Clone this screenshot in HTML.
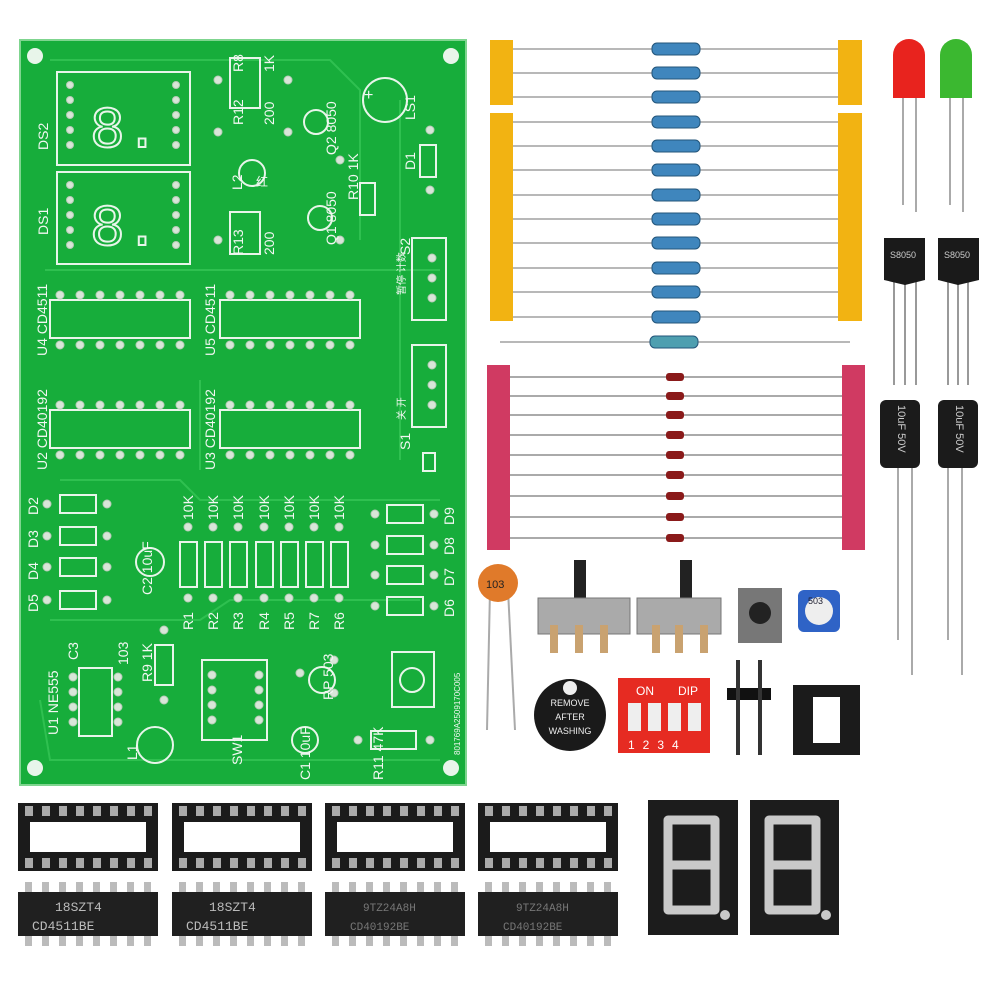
<!DOCTYPE html>
<html><head><style>body{margin:0;background:#fff}svg{display:block}</style></head><body>
<svg width="1000" height="1000" viewBox="0 0 1000 1000" xmlns="http://www.w3.org/2000/svg" font-family="Liberation Sans, Noto Sans CJK SC, sans-serif">
<rect width="1000" height="1000" fill="#fff"/>
<!-- PCB -->
<rect x="20" y="40" width="446" height="745" fill="#17ad3b" stroke="#7fd58f" stroke-width="2"/>
<g fill="none" stroke="#2fc050" stroke-width="2">
<path d="M50 60 H330 L360 90 V240 M45 270 H440 M60 480 H180 L200 500 H440 M50 620 H200 L230 600 H420 M40 700 L50 760 H440 M200 470 V380 M400 100 V460"/>
</g>
<g fill="none" stroke="#e8f5ea" stroke-width="2">
<rect x="57" y="72" width="133" height="93"/><rect x="57" y="172" width="133" height="92"/>
<rect x="50" y="300" width="140" height="38"/><rect x="220" y="300" width="140" height="38"/>
<rect x="50" y="410" width="140" height="38"/><rect x="220" y="410" width="140" height="38"/>
<rect x="230" y="58" width="30" height="50"/><rect x="230" y="212" width="30" height="42"/><rect x="360" y="183" width="15" height="32"/>
<rect x="412" y="238" width="34" height="82"/><rect x="412" y="345" width="34" height="82"/>
<rect x="420" y="145" width="16" height="32"/>
<circle cx="385" cy="100" r="22"/><circle cx="316" cy="122" r="12"/><circle cx="320" cy="218" r="12"/><circle cx="252" cy="173" r="13"/>
<rect x="60" y="495" width="36" height="18"/><rect x="60" y="527" width="36" height="18"/><rect x="60" y="558" width="36" height="18"/><rect x="60" y="591" width="36" height="18"/>
<rect x="180" y="542" width="17" height="45"/><rect x="205" y="542" width="17" height="45"/><rect x="230" y="542" width="17" height="45"/><rect x="256" y="542" width="17" height="45"/><rect x="281" y="542" width="17" height="45"/><rect x="306" y="542" width="17" height="45"/><rect x="331" y="542" width="17" height="45"/>
<rect x="387" y="505" width="36" height="18"/><rect x="387" y="536" width="36" height="18"/><rect x="387" y="566" width="36" height="18"/><rect x="387" y="597" width="36" height="18"/>
<circle cx="150" cy="562" r="14"/><circle cx="155" cy="745" r="18"/><circle cx="305" cy="740" r="13"/><circle cx="322" cy="680" r="13"/>
<rect x="79" y="668" width="33" height="68"/><rect x="202" y="660" width="65" height="80"/><rect x="155" y="645" width="18" height="40"/>
<rect x="371" y="731" width="45" height="18"/><rect x="392" y="652" width="42" height="55"/><circle cx="412" cy="680" r="12"/>
<rect x="423" y="453" width="12" height="18"/>
</g>
<g fill="#e8f5ea">
<circle cx="35" cy="56" r="8"/><circle cx="451" cy="56" r="8"/><circle cx="35" cy="768" r="8"/><circle cx="451" cy="768" r="8"/>
</g>
<g fill="#d8e6d8" stroke="#b8cbb8">
<g id="pads"><circle cx="60" cy="295" r="4"/><circle cx="80" cy="295" r="4"/><circle cx="100" cy="295" r="4"/><circle cx="120" cy="295" r="4"/><circle cx="140" cy="295" r="4"/><circle cx="160" cy="295" r="4"/><circle cx="180" cy="295" r="4"/><circle cx="60" cy="345" r="4"/><circle cx="80" cy="345" r="4"/><circle cx="100" cy="345" r="4"/><circle cx="120" cy="345" r="4"/><circle cx="140" cy="345" r="4"/><circle cx="160" cy="345" r="4"/><circle cx="180" cy="345" r="4"/></g>
<use href="#pads" x="170"/><use href="#pads" y="110"/><use href="#pads" x="170" y="110"/>
<g id="dp"><circle cx="70" cy="85" r="3.5"/><circle cx="70" cy="100" r="3.5"/><circle cx="70" cy="115" r="3.5"/><circle cx="70" cy="130" r="3.5"/><circle cx="70" cy="145" r="3.5"/><circle cx="176" cy="85" r="3.5"/><circle cx="176" cy="100" r="3.5"/><circle cx="176" cy="115" r="3.5"/><circle cx="176" cy="130" r="3.5"/><circle cx="176" cy="145" r="3.5"/></g>
<use href="#dp" y="100"/>
<circle cx="73" cy="677" r="4"/><circle cx="73" cy="692" r="4"/><circle cx="73" cy="707" r="4"/><circle cx="73" cy="722" r="4"/><circle cx="118" cy="677" r="4"/><circle cx="118" cy="692" r="4"/><circle cx="118" cy="707" r="4"/><circle cx="118" cy="722" r="4"/>
<circle cx="47" cy="504" r="4"/><circle cx="47" cy="536" r="4"/><circle cx="47" cy="567" r="4"/><circle cx="47" cy="600" r="4"/><circle cx="107" cy="504" r="4"/><circle cx="107" cy="536" r="4"/><circle cx="107" cy="567" r="4"/><circle cx="107" cy="600" r="4"/>
<circle cx="188" cy="527" r="4"/><circle cx="213" cy="527" r="4"/><circle cx="238" cy="527" r="4"/><circle cx="264" cy="527" r="4"/><circle cx="289" cy="527" r="4"/><circle cx="314" cy="527" r="4"/><circle cx="339" cy="527" r="4"/>
<circle cx="188" cy="598" r="4"/><circle cx="213" cy="598" r="4"/><circle cx="238" cy="598" r="4"/><circle cx="264" cy="598" r="4"/><circle cx="289" cy="598" r="4"/><circle cx="314" cy="598" r="4"/><circle cx="339" cy="598" r="4"/>
<circle cx="375" cy="514" r="4"/><circle cx="375" cy="545" r="4"/><circle cx="375" cy="575" r="4"/><circle cx="375" cy="606" r="4"/><circle cx="434" cy="514" r="4"/><circle cx="434" cy="545" r="4"/><circle cx="434" cy="575" r="4"/><circle cx="434" cy="606" r="4"/>
<circle cx="432" cy="258" r="4"/><circle cx="432" cy="278" r="4"/><circle cx="432" cy="298" r="4"/><circle cx="432" cy="365" r="4"/><circle cx="432" cy="385" r="4"/><circle cx="432" cy="405" r="4"/>
<circle cx="218" cy="80" r="4"/><circle cx="288" cy="80" r="4"/><circle cx="218" cy="132" r="4"/><circle cx="288" cy="132" r="4"/><circle cx="218" cy="240" r="4"/><circle cx="340" cy="240" r="4"/><circle cx="340" cy="160" r="4"/><circle cx="430" cy="130" r="4"/><circle cx="430" cy="190" r="4"/>
<circle cx="212" cy="675" r="4"/><circle cx="212" cy="690" r="4"/><circle cx="212" cy="705" r="4"/><circle cx="212" cy="720" r="4"/><circle cx="259" cy="675" r="4"/><circle cx="259" cy="690" r="4"/><circle cx="259" cy="705" r="4"/><circle cx="259" cy="720" r="4"/>
<circle cx="164" cy="630" r="4"/><circle cx="164" cy="700" r="4"/><circle cx="358" cy="740" r="4"/><circle cx="430" cy="740" r="4"/><circle cx="300" cy="673" r="4"/><circle cx="334" cy="660" r="4"/><circle cx="334" cy="693" r="4"/>
</g>
<g fill="#f2f7f2" font-size="14">
<text x="90" y="147" font-size="58" font-family="Liberation Mono" fill="none" stroke="#e8f5ea" stroke-width="2">8.</text>
<text x="90" y="245" font-size="58" font-family="Liberation Mono" fill="none" stroke="#e8f5ea" stroke-width="2">8.</text>
<text transform="translate(48 150) rotate(-90)">DS2</text><text transform="translate(48 235) rotate(-90)">DS1</text>
<text transform="translate(47 356) rotate(-90)">U4 CD4511</text><text transform="translate(215 356) rotate(-90)">U5 CD4511</text>
<text transform="translate(47 470) rotate(-90)">U2 CD40192</text><text transform="translate(215 470) rotate(-90)">U3 CD40192</text>
<text transform="translate(243 72) rotate(-90)">R8</text><text transform="translate(274 72) rotate(-90)">1K</text><text transform="translate(243 125) rotate(-90)">R12</text><text transform="translate(274 125) rotate(-90)">200</text>
<text transform="translate(243 255) rotate(-90)">R13</text><text transform="translate(274 255) rotate(-90)">200</text><text transform="translate(242 190) rotate(-90)">L2</text>
<text transform="translate(336 155) rotate(-90)">Q2 8050</text><text transform="translate(336 245) rotate(-90)">Q1 8050</text>
<text transform="translate(358 200) rotate(-90)">R10 1K</text><text transform="translate(415 120) rotate(-90)">LS1</text><text transform="translate(415 170) rotate(-90)">D1</text>
<text transform="translate(410 255) rotate(-90)">S2</text><text transform="translate(410 450) rotate(-90)">S1</text>
<text transform="translate(38 515) rotate(-90)">D2</text><text transform="translate(38 548) rotate(-90)">D3</text><text transform="translate(38 580) rotate(-90)">D4</text><text transform="translate(38 612) rotate(-90)">D5</text>
<text transform="translate(454 525) rotate(-90)">D9</text><text transform="translate(454 555) rotate(-90)">D8</text><text transform="translate(454 586) rotate(-90)">D7</text><text transform="translate(454 617) rotate(-90)">D6</text>
<text transform="translate(152 595) rotate(-90)">C2 10uF</text>
<text transform="translate(193 520) rotate(-90)">10K</text><text transform="translate(218 520) rotate(-90)">10K</text><text transform="translate(243 520) rotate(-90)">10K</text><text transform="translate(269 520) rotate(-90)">10K</text><text transform="translate(294 520) rotate(-90)">10K</text><text transform="translate(319 520) rotate(-90)">10K</text><text transform="translate(344 520) rotate(-90)">10K</text>
<text transform="translate(193 630) rotate(-90)">R1</text><text transform="translate(218 630) rotate(-90)">R2</text><text transform="translate(243 630) rotate(-90)">R3</text><text transform="translate(269 630) rotate(-90)">R4</text><text transform="translate(294 630) rotate(-90)">R5</text><text transform="translate(319 630) rotate(-90)">R7</text><text transform="translate(344 630) rotate(-90)">R6</text>
<text transform="translate(78 660) rotate(-90)">C3</text><text transform="translate(128 665) rotate(-90)">103</text>
<text transform="translate(58 735) rotate(-90)">U1  NE555</text><text transform="translate(152 682) rotate(-90)">R9 1K</text>
<text transform="translate(137 760) rotate(-90)">L1</text><text transform="translate(242 765) rotate(-90)">SW1</text>
<text transform="translate(310 780) rotate(-90)">C1 10uF</text><text transform="translate(333 700) rotate(-90)">RP 503</text>
<text transform="translate(383 780) rotate(-90)">R11  47K</text>
<text transform="translate(460 755) rotate(-90)" font-size="8">801769A2509170C005</text>
<text x="364" y="100" font-size="16">+</text><text x="256" y="186" font-size="12">红</text>
<text transform="translate(405 295) rotate(-90)" font-size="10">暂停 计数</text><text transform="translate(405 420) rotate(-90)" font-size="10">关  开</text>
</g>
<!-- Resistor tapes -->
<rect x="490" y="40" width="23" height="65" fill="#f2b312"/><rect x="490" y="113" width="23" height="208" fill="#f2b312"/>
<rect x="838" y="40" width="24" height="65" fill="#f2b312"/><rect x="838" y="113" width="24" height="208" fill="#f2b312"/>
<g stroke="#b8b8b8" stroke-width="2">
<line x1="513" y1="49" x2="838" y2="49"/><line x1="513" y1="73" x2="838" y2="73"/><line x1="513" y1="97" x2="838" y2="97"/><line x1="513" y1="122" x2="838" y2="122"/><line x1="513" y1="146" x2="838" y2="146"/><line x1="513" y1="170" x2="838" y2="170"/><line x1="513" y1="195" x2="838" y2="195"/><line x1="513" y1="219" x2="838" y2="219"/><line x1="513" y1="243" x2="838" y2="243"/><line x1="513" y1="268" x2="838" y2="268"/><line x1="513" y1="292" x2="838" y2="292"/><line x1="513" y1="317" x2="838" y2="317"/><line x1="500" y1="342" x2="850" y2="342"/>
</g>
<g fill="#3f86bd" stroke="#23557a">
<rect x="652" y="43" width="48" height="12" rx="5"/><rect x="652" y="67" width="48" height="12" rx="5"/><rect x="652" y="91" width="48" height="12" rx="5"/><rect x="652" y="116" width="48" height="12" rx="5"/><rect x="652" y="140" width="48" height="12" rx="5"/><rect x="652" y="164" width="48" height="12" rx="5"/><rect x="652" y="189" width="48" height="12" rx="5"/><rect x="652" y="213" width="48" height="12" rx="5"/><rect x="652" y="237" width="48" height="12" rx="5"/><rect x="652" y="262" width="48" height="12" rx="5"/><rect x="652" y="286" width="48" height="12" rx="5"/><rect x="652" y="311" width="48" height="12" rx="5"/><rect x="650" y="336" width="48" height="12" rx="5" fill="#4e9fb0"/>
</g>
<!-- Diode tapes -->
<rect x="487" y="365" width="23" height="185" fill="#d03a62"/><rect x="842" y="365" width="23" height="185" fill="#d03a62"/>
<g stroke="#aaa" stroke-width="2">
<line x1="510" y1="377" x2="842" y2="377"/><line x1="510" y1="396" x2="842" y2="396"/><line x1="510" y1="415" x2="842" y2="415"/><line x1="510" y1="435" x2="842" y2="435"/><line x1="510" y1="455" x2="842" y2="455"/><line x1="510" y1="475" x2="842" y2="475"/><line x1="510" y1="496" x2="842" y2="496"/><line x1="510" y1="517" x2="842" y2="517"/><line x1="510" y1="538" x2="842" y2="538"/>
</g>
<g fill="#8a1a1a">
<rect x="666" y="373" width="18" height="8" rx="3"/><rect x="666" y="392" width="18" height="8" rx="3"/><rect x="666" y="411" width="18" height="8" rx="3"/><rect x="666" y="431" width="18" height="8" rx="3"/><rect x="666" y="451" width="18" height="8" rx="3"/><rect x="666" y="471" width="18" height="8" rx="3"/><rect x="666" y="492" width="18" height="8" rx="3"/><rect x="666" y="513" width="18" height="8" rx="3"/><rect x="666" y="534" width="18" height="8" rx="3"/>
</g>
<!-- LEDs -->
<g stroke="#aaa" stroke-width="2"><line x1="903" y1="95" x2="903" y2="205"/><line x1="916" y1="95" x2="916" y2="212"/><line x1="950" y1="95" x2="950" y2="205"/><line x1="963" y1="95" x2="963" y2="212"/></g>
<path d="M893 98 V55 a16 16 0 0 1 32 0 V98 Z" fill="#e8231e"/><path d="M940 98 V55 a16 16 0 0 1 32 0 V98 Z" fill="#3bb830"/>
<!-- transistors -->
<g stroke="#999" stroke-width="2"><line x1="894" y1="280" x2="894" y2="385"/><line x1="905" y1="280" x2="905" y2="385"/><line x1="916" y1="280" x2="916" y2="385"/><line x1="948" y1="280" x2="948" y2="385"/><line x1="958" y1="280" x2="958" y2="385"/><line x1="968" y1="280" x2="968" y2="385"/></g>
<path d="M884 238 H925 V280 L905 285 L884 280Z" fill="#1a1a1a"/><path d="M938 238 H979 V280 L958 285 L938 280Z" fill="#1a1a1a"/>
<text x="890" y="258" font-size="9" fill="#ccc">S8050</text><text x="944" y="258" font-size="9" fill="#ccc">S8050</text>
<!-- electrolytics -->
<g stroke="#aaa" stroke-width="2"><line x1="898" y1="465" x2="898" y2="640"/><line x1="912" y1="465" x2="912" y2="675"/><line x1="948" y1="465" x2="948" y2="640"/><line x1="962" y1="465" x2="962" y2="675"/></g>
<rect x="880" y="400" width="40" height="68" rx="6" fill="#1b1b1b"/><rect x="938" y="400" width="40" height="68" rx="6" fill="#1b1b1b"/>
<text transform="translate(898 405) rotate(90)" font-size="11" fill="#ccc">10uF 50V</text><text transform="translate(956 405) rotate(90)" font-size="11" fill="#ccc">10uF 50V</text>
<!-- ceramic cap -->
<g stroke="#aaa" stroke-width="2"><line x1="490" y1="590" x2="487" y2="730"/><line x1="508" y1="590" x2="515" y2="730"/></g>
<ellipse cx="498" cy="583" rx="20" ry="19" fill="#e07a2a"/><text x="486" y="588" font-size="11" fill="#222">103</text>
<!-- slide switches -->
<rect x="574" y="560" width="12" height="40" fill="#222"/><rect x="538" y="598" width="92" height="36" fill="#aaa" stroke="#777"/>
<rect x="680" y="560" width="12" height="40" fill="#222"/><rect x="637" y="598" width="84" height="36" fill="#aaa" stroke="#777"/>
<g fill="#c9a270"><rect x="550" y="625" width="8" height="28"/><rect x="575" y="625" width="8" height="28"/><rect x="600" y="625" width="8" height="28"/><rect x="652" y="625" width="8" height="28"/><rect x="675" y="625" width="8" height="28"/><rect x="700" y="625" width="8" height="28"/></g>
<!-- tact -->
<rect x="738" y="588" width="44" height="55" fill="#777"/><circle cx="760" cy="613" r="11" fill="#222"/>
<!-- pot -->
<rect x="798" y="590" width="42" height="42" rx="6" fill="#2f63c6"/><circle cx="819" cy="611" r="14" fill="#eee"/><text x="808" y="604" font-size="9" fill="#223">503</text>
<!-- buzzer -->
<circle cx="570" cy="715" r="36" fill="#1a1a1a"/><text x="570" y="706" font-size="9" fill="#eee" text-anchor="middle">REMOVE</text><text x="570" y="720" font-size="9" fill="#eee" text-anchor="middle">AFTER</text><text x="570" y="734" font-size="9" fill="#eee" text-anchor="middle">WASHING</text><circle cx="570" cy="688" r="7" fill="#eee"/>
<!-- DIP switch -->
<rect x="618" y="678" width="92" height="75" fill="#e62b22"/><text x="636" y="695" font-size="12" fill="#fff">ON</text><text x="678" y="695" font-size="12" fill="#fff">DIP</text>
<g fill="#eee"><rect x="628" y="703" width="13" height="28"/><rect x="648" y="703" width="13" height="28"/><rect x="668" y="703" width="13" height="28"/><rect x="688" y="703" width="13" height="28"/></g>
<text x="628" y="749" font-size="12" fill="#fff" letter-spacing="8">1234</text>
<!-- header -->
<rect x="727" y="688" width="44" height="12" fill="#111"/><g stroke="#333" stroke-width="4"><line x1="738" y1="660" x2="738" y2="755"/><line x1="760" y1="660" x2="760" y2="755"/></g>
<!-- socket 8 -->
<rect x="793" y="685" width="67" height="70" fill="#1b1b1b"/><rect x="813" y="697" width="27" height="46" fill="#fff"/>
<!-- sockets 16 -->
<g id="sock"><rect x="18" y="803" width="140" height="68" fill="#1b1b1b"/><rect x="30" y="822" width="116" height="30" fill="#fff"/>
<g fill="#aaa"><rect x="25" y="806" width="8" height="10"/><rect x="42" y="806" width="8" height="10"/><rect x="59" y="806" width="8" height="10"/><rect x="76" y="806" width="8" height="10"/><rect x="93" y="806" width="8" height="10"/><rect x="110" y="806" width="8" height="10"/><rect x="127" y="806" width="8" height="10"/><rect x="144" y="806" width="8" height="10"/><rect x="25" y="858" width="8" height="10"/><rect x="42" y="858" width="8" height="10"/><rect x="59" y="858" width="8" height="10"/><rect x="76" y="858" width="8" height="10"/><rect x="93" y="858" width="8" height="10"/><rect x="110" y="858" width="8" height="10"/><rect x="127" y="858" width="8" height="10"/><rect x="144" y="858" width="8" height="10"/></g></g>
<use href="#sock" x="154"/><use href="#sock" x="307"/><use href="#sock" x="460"/>
<!-- ICs -->
<g id="ic"><g fill="#bbb"><rect x="25" y="882" width="7" height="12"/><rect x="42" y="882" width="7" height="12"/><rect x="59" y="882" width="7" height="12"/><rect x="76" y="882" width="7" height="12"/><rect x="93" y="882" width="7" height="12"/><rect x="110" y="882" width="7" height="12"/><rect x="127" y="882" width="7" height="12"/><rect x="144" y="882" width="7" height="12"/><rect x="25" y="934" width="7" height="12"/><rect x="42" y="934" width="7" height="12"/><rect x="59" y="934" width="7" height="12"/><rect x="76" y="934" width="7" height="12"/><rect x="93" y="934" width="7" height="12"/><rect x="110" y="934" width="7" height="12"/><rect x="127" y="934" width="7" height="12"/><rect x="144" y="934" width="7" height="12"/></g>
<rect x="18" y="892" width="140" height="44" fill="#202020"/></g>
<use href="#ic" x="154"/><use href="#ic" x="307"/><use href="#ic" x="460"/>
<g font-size="13" fill="#bbb" font-family="Liberation Mono"><text x="55" y="911">18SZT4</text><text x="32" y="930">CD4511BE</text><text x="209" y="911">18SZT4</text><text x="186" y="930">CD4511BE</text>
<text x="363" y="911" font-size="11" fill="#777">9TZ24A8H</text><text x="350" y="930" font-size="11" fill="#777">CD40192BE</text><text x="516" y="911" font-size="11" fill="#777">9TZ24A8H</text><text x="503" y="930" font-size="11" fill="#777">CD40192BE</text></g>
<!-- 7 seg displays -->
<rect x="648" y="800" width="90" height="135" fill="#1c1c1c"/><rect x="750" y="800" width="89" height="135" fill="#1c1c1c"/>
<g fill="none" stroke="#c9c9c9" stroke-width="9" stroke-linejoin="round"><path d="M668 820 H715 V910 H668 Z M668 865 H715"/><path d="M769 820 H816 V910 H769 Z M769 865 H816"/></g>
<circle cx="725" cy="915" r="5" fill="#c9c9c9"/><circle cx="826" cy="915" r="5" fill="#c9c9c9"/>
</svg>
</body></html>
